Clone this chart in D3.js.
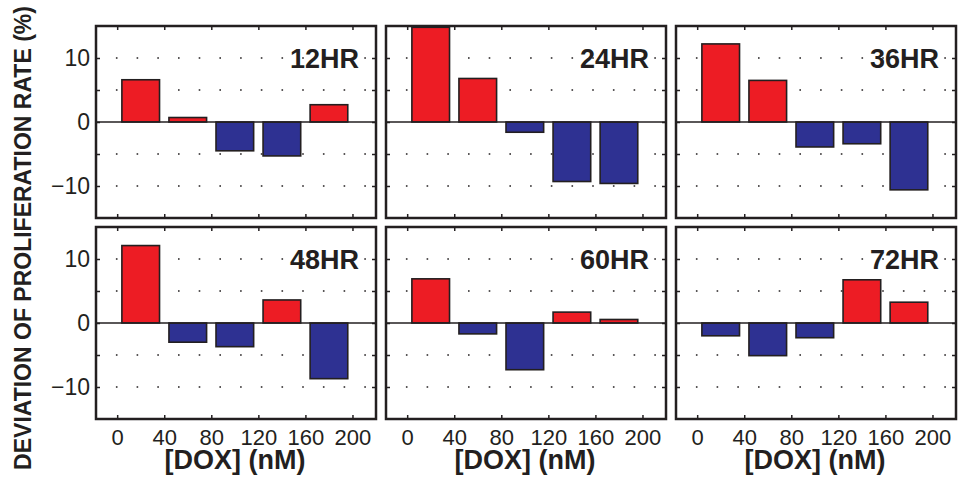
<!DOCTYPE html>
<html>
<head>
<meta charset="utf-8">
<script src="https://cdn.jsdelivr.net/npm/d3@7"></script>
<style>
  body { margin: 0; background: #fff; }
  text { font-family: "Liberation Sans", Arial, Helvetica, sans-serif; fill: #231f20; }
</style>
</head>
<body>
<svg id="chart" width="958" height="479"></svg>
<script>
// panel names and doses
const hours = ["12HR", "24HR", "36HR", "48HR", "60HR", "72HR"];
const dox = [20, 60, 100, 140, 180];

// deviation of proliferation rate (%) per panel
const dev12 = [6.6, 0.7, -4.5, -5.3, 2.7];
const dev24 = [14.8, 6.8, -1.6, -9.3, -9.6];
const dev36 = [12.2, 6.5, -3.9, -3.4, -10.6];
const dev48 = [12.1, -3.0, -3.7, 3.6, -8.7];
const dev60 = [6.9, -1.7, -7.3, 1.7, 0.55];
const dev72 = [-2.0, -5.1, -2.3, 6.75, 3.25];
const devs = [dev12, dev24, dev36, dev48, dev60, dev72];

const xTicks = [0, 40, 80, 120, 160, 200];
const yTicks = [-10, -5, 0, 5, 10];
const yLabeled = [-10, 0, 10];

const red = "#ed1c24", blue = "#2e3192", ink = "#231f20";

const svg = d3.select("#chart");

const colLeft = [96, 386, 676];
const rowTop = [26, 227];
const W = 280, H = 192;

const x = d3.scaleLinear().domain([-18, 220]).range([0, W]);
const y = d3.scaleLinear().domain([-15, 15]).range([H, 0]);
const barW = x(32) - x(0);

hours.forEach(function (name, i) {
    const col = i % 3, row = Math.floor(i / 3);
    const g = svg.append("g").attr("transform", "translate(" + colLeft[col] + "," + rowTop[row] + ")");
    const vals = devs[i];

    // dotted y grid
    g.selectAll(".grid").data(yTicks.filter(d => d !== 0)).enter()
        .append("line")
        .attr("x1", 0).attr("x2", W)
        .attr("y1", d => y(d)).attr("y2", d => y(d))
        .attr("stroke", ink).attr("stroke-width", 1.5)
        .attr("stroke-dasharray", "1.6,19.1")
        .attr("stroke-dashoffset", -19.9);

    // label
    g.append("text")
        .attr("x", W - 17).attr("y", y(10) + 10)
        .attr("text-anchor", "end")
        .style("font-size", "27px").style("font-weight", "bold")
        .text(name);

    // bars
    g.selectAll(".bar").data(vals).enter()
        .append("rect")
        .attr("x", (d, j) => x(dox[j]) - barW / 2)
        .attr("width", barW)
        .attr("y", d => y(Math.max(0, d)))
        .attr("height", d => Math.abs(y(d) - y(0)))
        .attr("fill", d => d >= 0 ? red : blue)
        .attr("stroke", ink).attr("stroke-width", 1.6);

    // zero line
    g.append("line")
        .attr("x1", 0).attr("x2", W).attr("y1", y(0)).attr("y2", y(0))
        .attr("stroke", ink).attr("stroke-width", 1.6);

    // axes with inward ticks on every side
    const ax = [
        d3.axisLeft(y).tickValues(yTicks).tickSize(-4).tickPadding(6),
        d3.axisRight(y).tickValues(yTicks).tickSize(-4),
        d3.axisBottom(x).tickValues(xTicks).tickSize(-4).tickPadding(10),
        d3.axisTop(x).tickValues(xTicks).tickSize(-4)
    ];
    const pos = ["translate(0,0)", "translate(" + W + ",0)", "translate(0," + H + ")", "translate(0,0)"];
    ax.forEach(function (a, k) {
        const showLeft = k === 0 && col === 0;
        const showBottom = k === 2 && row === 1;
        if (k === 0) a.tickFormat(d => showLeft && yLabeled.includes(d) ? d3.format("")(d).replace("-", "\u2212") : "");
        else if (k === 2) a.tickFormat(d => showBottom ? d : "");
        else a.tickFormat("");
        const ag = g.append("g").attr("transform", pos[k]).call(a);
        ag.select(".domain").remove();
        ag.selectAll("line").attr("stroke", ink).attr("stroke-width", 1.5);
        ag.selectAll("text").style("font-size", k === 2 ? "22px" : "23px").attr("fill", ink);
    });

    // frame
    g.append("rect")
        .attr("width", W).attr("height", H)
        .attr("fill", "none").attr("stroke", ink).attr("stroke-width", 2.5);

    if (row === 1) {
        g.append("text")
            .attr("x", W / 2 - 1).attr("y", H + 50)
            .attr("text-anchor", "middle")
            .style("font-size", "27px").style("font-weight", "bold")
            .text("[DOX] (nM)");
    }
});

svg.append("text")
    .attr("transform", "translate(31,238) rotate(-90)")
    .attr("text-anchor", "middle")
    .style("font-size", "23px").style("font-weight", "bold")
    .text("DEVIATION OF PROLIFERATION RATE (%)");
</script>
</body>
</html>
